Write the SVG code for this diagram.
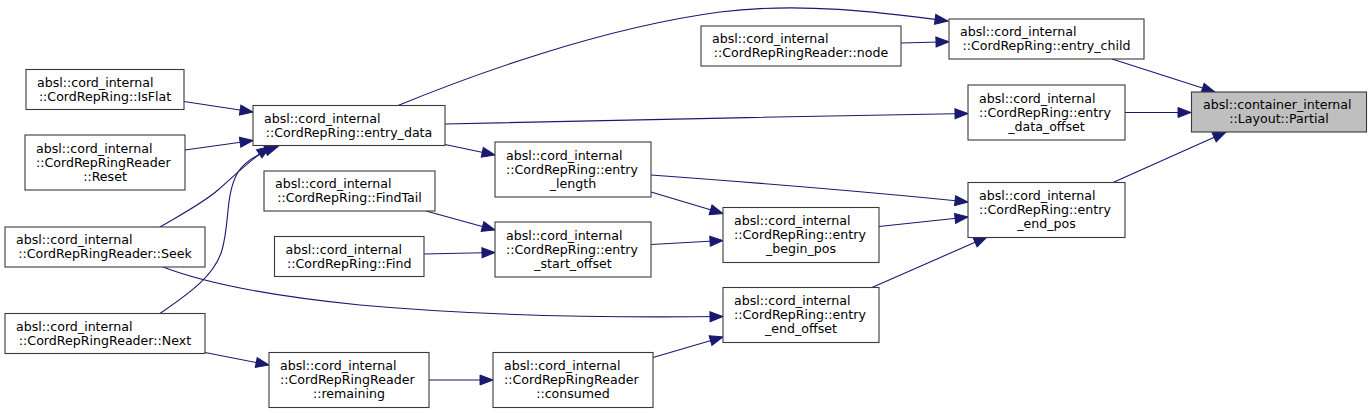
<svg xmlns="http://www.w3.org/2000/svg" width="1372" height="414" viewBox="0 0 1372 414">
<style>
.n rect{fill:#ffffff;stroke:#3a3a3a;stroke-width:1.1}
.cur rect{fill:#bfbfbf}
text{font-family:"DejaVu Sans",sans-serif;font-size:12.6px;fill:#000000}
.c{text-anchor:middle}
.e path{fill:none;stroke:#191970;stroke-width:1.1;marker-end:url(#ah)}
</style>
<defs>
<marker id="ah" markerUnits="userSpaceOnUse" markerWidth="13" markerHeight="10" refX="13" refY="5" orient="auto" overflow="visible">
<path d="M0,0 L13,5 L0,10 z" fill="#191970" stroke="#191970" stroke-width="1"/>
</marker>
</defs>
<rect width="1372" height="414" fill="#ffffff"/>
<g id="connectors" class="e">
<path d="M1112,59 L1215,92"/>
<path d="M1125,112.5 L1191,112.5"/>
<path d="M1113,182.5 L1226,132"/>
<path d="M901,43 L949,41.7"/>
<path d="M398,105.5 C470,76 600,28 720,12 C800,2 880,12 948,21"/>
<path d="M445,124 C600,121 800,116 968,113.5"/>
<path d="M445,144.5 L495,155"/>
<path d="M651,175 C760,183 880,193 968,202"/>
<path d="M651,192 L723,213.5"/>
<path d="M879,226.5 L968,217"/>
<path d="M872,287.5 L987,237"/>
<path d="M651,244.5 L723,240.5"/>
<path d="M426,211 L495,230"/>
<path d="M424,254 L495,252.5"/>
<path d="M184,101.5 L253,112"/>
<path d="M185,150 L253,140.5"/>
<path d="M160,227 C182,214 203,203 218,190 C234,176 250,160 270,146.5"/>
<path d="M160,313.5 C190,293 215,275 222,250 C230,222 225,195 238,172 C246,160 262,152 278,146.5"/>
<path d="M163,267 C210,285 280,297 360,305 C470,315 600,318 723,316.5"/>
<path d="M205,352.5 L269,365"/>
<path d="M429,380 L493,380"/>
<path d="M653,357.5 L723,337"/>
</g>
<g id="partial" class="n cur"><rect x="1191.5" y="92" width="175" height="40"/><text x="1203" y="109">absl::container_internal</text><text class="c" x="1279" y="123">::Layout::Partial</text></g>
<g id="entry_child" class="n"><rect x="949" y="19" width="195" height="40"/><text x="960" y="36">absl::cord_internal</text><text class="c" x="1046.5" y="50">::CordRepRing::entry_child</text></g>
<g id="node_fn" class="n"><rect x="701" y="26" width="200" height="40"/><text x="712" y="43">absl::cord_internal</text><text class="c" x="801" y="57">::CordRepRingReader::node</text></g>
<g id="entry_data_offset" class="n"><rect x="968" y="85" width="157" height="55"/><text x="979" y="102.5">absl::cord_internal</text><text x="979" y="116.5">::CordRepRing::entry</text><text class="c" x="1046.5" y="130.5">_data_offset</text></g>
<g id="entry_end_pos" class="n"><rect x="968" y="182.5" width="157" height="55"/><text x="979" y="200">absl::cord_internal</text><text x="979" y="214">::CordRepRing::entry</text><text class="c" x="1046.5" y="228">_end_pos</text></g>
<g id="entry_data" class="n"><rect x="253" y="105.5" width="192" height="40"/><text x="264" y="122.5">absl::cord_internal</text><text class="c" x="349" y="136.5">::CordRepRing::entry_data</text></g>
<g id="isflat" class="n"><rect x="26" y="69.5" width="158" height="40"/><text x="37" y="86.5">absl::cord_internal</text><text class="c" x="105" y="100.5">::CordRepRing::IsFlat</text></g>
<g id="reset" class="n"><rect x="25" y="135" width="160" height="55"/><text x="36" y="152.5">absl::cord_internal</text><text x="36" y="166.5">::CordRepRingReader</text><text class="c" x="105" y="180.5">::Reset</text></g>
<g id="seek" class="n"><rect x="5" y="227" width="200" height="40"/><text x="16" y="244">absl::cord_internal</text><text class="c" x="105" y="258">::CordRepRingReader::Seek</text></g>
<g id="next" class="n"><rect x="5" y="313.5" width="200" height="40"/><text x="16" y="330.5">absl::cord_internal</text><text class="c" x="105" y="344.5">::CordRepRingReader::Next</text></g>
<g id="findtail" class="n"><rect x="264" y="171" width="171" height="40"/><text x="275" y="188">absl::cord_internal</text><text class="c" x="349.5" y="202">::CordRepRing::FindTail</text></g>
<g id="find" class="n"><rect x="274.5" y="236.5" width="149.5" height="40"/><text x="285.5" y="253.5">absl::cord_internal</text><text class="c" x="349.25" y="267.5">::CordRepRing::Find</text></g>
<g id="entry_length" class="n"><rect x="495" y="142" width="156" height="55"/><text x="506" y="159.5">absl::cord_internal</text><text x="506" y="173.5">::CordRepRing::entry</text><text class="c" x="573" y="187.5">_length</text></g>
<g id="entry_start_offset" class="n"><rect x="495" y="222" width="156" height="55"/><text x="506" y="239.5">absl::cord_internal</text><text x="506" y="253.5">::CordRepRing::entry</text><text class="c" x="573" y="267.5">_start_offset</text></g>
<g id="entry_begin_pos" class="n"><rect x="723" y="207.5" width="156" height="55"/><text x="734" y="225">absl::cord_internal</text><text x="734" y="239">::CordRepRing::entry</text><text class="c" x="801" y="253">_begin_pos</text></g>
<g id="entry_end_offset" class="n"><rect x="723" y="287.5" width="156" height="55"/><text x="734" y="305">absl::cord_internal</text><text x="734" y="319">::CordRepRing::entry</text><text class="c" x="801" y="333">_end_offset</text></g>
<g id="remaining" class="n"><rect x="269" y="352.5" width="160" height="55"/><text x="280" y="370">absl::cord_internal</text><text x="280" y="384">::CordRepRingReader</text><text class="c" x="349" y="398">::remaining</text></g>
<g id="consumed" class="n"><rect x="493" y="352.5" width="160" height="55"/><text x="504" y="370">absl::cord_internal</text><text x="504" y="384">::CordRepRingReader</text><text class="c" x="573" y="398">::consumed</text></g>
</svg>
